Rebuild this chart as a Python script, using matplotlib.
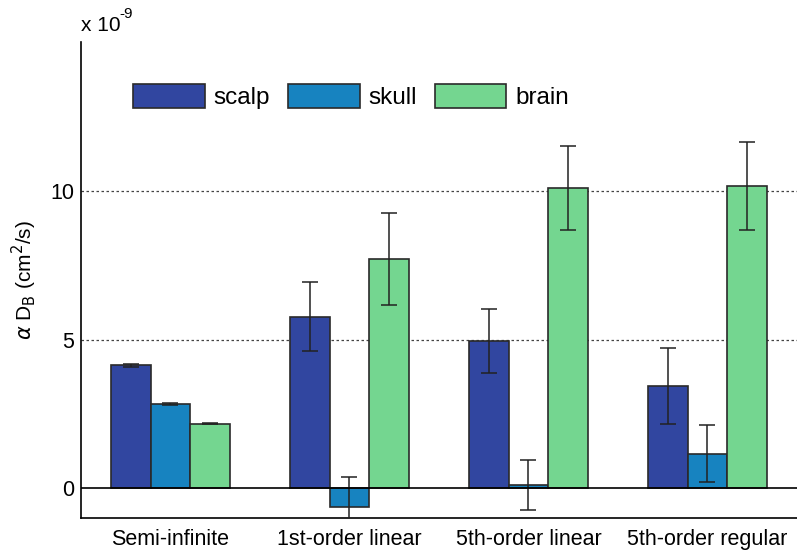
import numpy as np
import matplotlib.pyplot as plt

plt.rcParams['font.family'] = ['Liberation Sans', 'DejaVu Sans']

methods = ['Semi-infinite', '1st-order linear', '5th-order linear', '5th-order regular']
layers = ['scalp', 'skull', 'brain']
colors = ['#3146a0', '#1783c0', '#74d690']

# alpha*D_B in units of 1e-9 cm^2/s
scalp = [4.13, 5.77, 4.94, 3.43]
skull = [2.83, -0.63, 0.11, 1.16]
brain = [2.17, 7.70, 10.10, 10.16]
scalp_err = [0.04, 1.15, 1.08, 1.27]
skull_err = [0.02, 1.00, 0.83, 0.95]
brain_err = [0.02, 1.55, 1.41, 1.47]

vals = [scalp, skull, brain]
errs = [scalp_err, skull_err, brain_err]

fig = plt.figure(figsize=(7.97, 5.52), dpi=100)
ax = fig.add_axes([0.1016, 0.0616, 0.8984, 0.8623])

x = np.arange(1, len(methods) + 1)
w = 0.222
for i in range(3):
    pos = x + (i - 1) * w
    ax.bar(pos, vals[i], width=w, color=colors[i], edgecolor='#2a2a2a',
           linewidth=1.2, label=layers[i], zorder=2)
    ax.errorbar(pos, vals[i], yerr=errs[i], fmt='none', ecolor='#222222',
                elinewidth=1.1, capsize=5.5, capthick=1.1, zorder=3)

ax.axhline(0, color='black', lw=1.2, zorder=4)
for yv in [5, 10]:
    ax.axhline(yv, color='#444444', lw=0.9, ls=(0, (2, 2)), zorder=1)

ax.set_xlim(0.5, 4.5)
ax.set_ylim(-1, 15)
ax.set_yticks([0, 5, 10])
ax.set_xticks(x)
ax.set_xticklabels(methods)
ax.tick_params(length=0, labelsize=15.5, pad=8)
ax.tick_params(axis='y', pad=5)

for s in ['top', 'right']:
    ax.spines[s].set_visible(False)
ax.spines['left'].set_linewidth(1.2)
ax.spines['bottom'].set_linewidth(1.2)

ax.set_ylabel(r'$\alpha$ D$_{\rm B}$ (cm$^2$/s)', fontsize=15, labelpad=8)
# exponent note above the y axis
ax.text(0.0, 1.015, 'x 10', transform=ax.transAxes, fontsize=15,
        ha='left', va='bottom')
ax.text(0.054, 1.045, '-9', transform=ax.transAxes, fontsize=11,
        ha='left', va='bottom')

ax.legend(loc='upper left', bbox_to_anchor=(0.042, 0.958), ncol=3, frameon=False,
          fontsize=17.5, handlelength=2.95, handleheight=1.15, columnspacing=0.75,
          handletextpad=0.35)

plt.savefig('out.png', dpi=100)
